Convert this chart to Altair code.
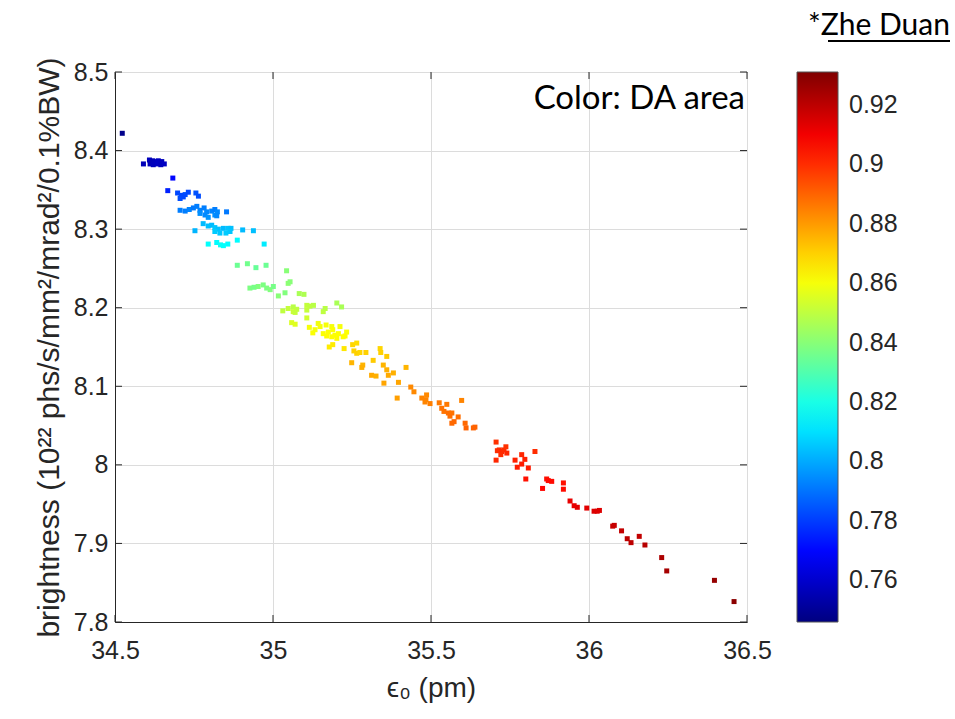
import altair as alt
import pandas as pd

# emittance eps_0 (pm)
eps = [
    34.523, 34.590, 34.609, 34.619, 34.627, 34.637, 34.648, 34.611, 34.621, 34.634,
    34.645, 34.656, 34.683, 34.667, 34.698, 34.709, 34.722, 34.732, 34.706, 34.716,
    34.756, 34.764, 34.706, 34.722, 34.735, 34.748, 34.759, 34.769, 34.782, 34.790,
    34.806, 34.816, 34.824, 34.853, 34.769, 34.785, 34.795, 34.816, 34.822, 34.779,
    34.795, 34.806, 34.816, 34.827, 34.843, 34.859, 34.867, 34.753, 34.816, 34.832,
    34.851, 34.864, 34.904, 34.938, 34.887, 34.795, 34.822, 34.834, 34.843, 34.857,
    34.972, 34.887, 34.919, 34.946, 34.978, 35.043, 34.927, 34.940, 34.953, 34.969,
    34.980, 34.991, 35.001, 35.017, 35.038, 35.048, 35.054, 35.083, 35.098, 35.031,
    35.048, 35.064, 35.075, 35.107, 35.117, 35.128, 35.107, 35.064, 35.107, 35.070,
    35.159, 35.165, 35.202, 35.217, 35.059, 35.070, 35.115, 35.126, 35.133, 35.143,
    35.149, 35.159, 35.168, 35.170, 35.175, 35.186, 35.189, 35.186, 35.196, 35.202,
    35.212, 35.207, 35.222, 35.233, 35.228, 35.178, 35.189, 35.225, 35.252, 35.265,
    35.256, 35.265, 35.275, 35.294, 35.339, 35.341, 35.360, 35.317, 35.249, 35.284,
    35.281, 35.312, 35.326, 35.349, 35.360, 35.365, 35.381, 35.351, 35.397, 35.421,
    35.393, 35.436, 35.446, 35.471, 35.486, 35.497, 35.484, 35.481, 35.526, 35.550,
    35.534, 35.541, 35.555, 35.566, 35.560, 35.586, 35.566, 35.573, 35.597, 35.608,
    35.611, 35.634, 35.639, 35.706, 35.710, 35.716, 35.724, 35.731, 35.737, 35.740,
    35.706, 35.721, 35.766, 35.787, 35.797, 35.829, 35.773, 35.787, 35.808, 35.800,
    35.866, 35.871, 35.882, 35.853, 35.919, 35.919, 35.940, 35.953, 35.963, 35.993,
    36.016, 36.026, 36.033, 36.075, 36.080, 36.103, 36.121, 36.133, 36.159, 36.177,
    36.230, 36.246, 36.397, 36.459,
]

# brightness (10^22 phs/s/mm^2/mrad^2/0.1%BW)
bright = [
    8.422, 8.383, 8.388, 8.387, 8.386, 8.387, 8.386, 8.383, 8.382, 8.383,
    8.382, 8.383, 8.365, 8.349, 8.346, 8.343, 8.344, 8.347, 8.339, 8.341,
    8.346, 8.342, 8.324, 8.323, 8.325, 8.327, 8.329, 8.324, 8.327, 8.322,
    8.323, 8.325, 8.322, 8.322, 8.320, 8.318, 8.315, 8.318, 8.317, 8.307,
    8.304, 8.305, 8.302, 8.300, 8.301, 8.301, 8.301, 8.298, 8.297, 8.295,
    8.295, 8.297, 8.299, 8.298, 8.286, 8.281, 8.283, 8.280, 8.279, 8.281,
    8.281, 8.254, 8.256, 8.251, 8.254, 8.247, 8.225, 8.226, 8.227, 8.229,
    8.225, 8.223, 8.227, 8.215, 8.219, 8.231, 8.233, 8.218, 8.217, 8.196,
    8.199, 8.201, 8.198, 8.203, 8.202, 8.203, 8.197, 8.195, 8.187, 8.194,
    8.195, 8.199, 8.206, 8.201, 8.181, 8.179, 8.175, 8.168, 8.172, 8.180,
    8.176, 8.167, 8.178, 8.164, 8.169, 8.176, 8.172, 8.163, 8.165, 8.161,
    8.176, 8.167, 8.163, 8.169, 8.164, 8.150, 8.153, 8.148, 8.153, 8.155,
    8.145, 8.142, 8.143, 8.143, 8.148, 8.143, 8.138, 8.133, 8.130, 8.127,
    8.124, 8.114, 8.113, 8.127, 8.121, 8.114, 8.117, 8.104, 8.105, 8.124,
    8.085, 8.099, 8.093, 8.085, 8.089, 8.078, 8.083, 8.080, 8.079, 8.077,
    8.072, 8.068, 8.066, 8.066, 8.062, 8.061, 8.053, 8.055, 8.082, 8.053,
    8.047, 8.047, 8.048, 8.029, 8.018, 8.019, 8.017, 8.019, 8.023, 8.015,
    8.006, 8.013, 8.006, 8.013, 8.007, 8.017, 7.997, 8.001, 7.996, 7.982,
    7.982, 7.980, 7.979, 7.970, 7.977, 7.969, 7.954, 7.948, 7.946, 7.945,
    7.941, 7.941, 7.942, 7.922, 7.923, 7.916, 7.906, 7.901, 7.909, 7.898,
    7.882, 7.865, 7.853, 7.826,
]

# dynamic aperture area (colour)
da = [
    0.748, 0.756, 0.757, 0.756, 0.757, 0.758, 0.757, 0.756, 0.757, 0.758,
    0.757, 0.758, 0.770, 0.775, 0.782, 0.782, 0.783, 0.782, 0.783, 0.782,
    0.784, 0.783, 0.792, 0.792, 0.793, 0.791, 0.792, 0.793, 0.792, 0.794,
    0.793, 0.792, 0.794, 0.791, 0.795, 0.794, 0.796, 0.795, 0.794, 0.803,
    0.804, 0.803, 0.805, 0.804, 0.803, 0.805, 0.804, 0.802, 0.806, 0.805,
    0.806, 0.805, 0.803, 0.804, 0.815, 0.816, 0.815, 0.817, 0.816, 0.815,
    0.812, 0.835, 0.836, 0.834, 0.835, 0.840, 0.838, 0.837, 0.839, 0.838,
    0.838, 0.839, 0.837, 0.840, 0.839, 0.841, 0.840, 0.846, 0.847, 0.850,
    0.851, 0.849, 0.850, 0.851, 0.850, 0.849, 0.851, 0.852, 0.853, 0.851,
    0.850, 0.849, 0.846, 0.846, 0.855, 0.856, 0.860, 0.861, 0.860, 0.859,
    0.860, 0.861, 0.860, 0.862, 0.861, 0.860, 0.861, 0.862, 0.861, 0.862,
    0.860, 0.861, 0.862, 0.861, 0.862, 0.865, 0.865, 0.866, 0.869, 0.868,
    0.870, 0.870, 0.869, 0.870, 0.869, 0.870, 0.871, 0.871, 0.875, 0.875,
    0.876, 0.877, 0.876, 0.875, 0.876, 0.877, 0.876, 0.878, 0.878, 0.875,
    0.879, 0.883, 0.883, 0.884, 0.883, 0.885, 0.884, 0.884, 0.886, 0.886,
    0.887, 0.887, 0.888, 0.887, 0.888, 0.888, 0.889, 0.889, 0.884, 0.889,
    0.890, 0.890, 0.890, 0.899, 0.900, 0.900, 0.901, 0.900, 0.899, 0.901,
    0.901, 0.900, 0.902, 0.901, 0.902, 0.900, 0.903, 0.903, 0.903, 0.905,
    0.905, 0.906, 0.906, 0.907, 0.905, 0.906, 0.912, 0.912, 0.913, 0.913,
    0.914, 0.914, 0.914, 0.918, 0.918, 0.919, 0.920, 0.920, 0.919, 0.921,
    0.923, 0.924, 0.927, 0.929,
]

x_ticks = [34.5, 35.0, 35.5, 36.0, 36.5]
y_ticks = [7.8, 7.9, 8.0, 8.1, 8.2, 8.3, 8.4, 8.5]
cbar_ticks = [0.76, 0.78, 0.80, 0.82, 0.84, 0.86, 0.88, 0.90, 0.92]

# MATLAB "jet" colormap anchor points
jet_domain = [0.746, 0.7691, 0.8154, 0.8616, 0.9079, 0.931]
jet_range = ["#000080", "#0000ff", "#00ffff", "#ffff00", "#ff0000", "#800000"]

df = pd.DataFrame({"eps": eps, "bright": bright, "da": da})
xt = pd.DataFrame({"v": x_ticks})
yt = pd.DataFrame({"v": y_ticks})

W, H = 632, 550
AX = "#262626"
LABEL_FONT = "Liberation Sans"
LBL = 25

xs = alt.Scale(domain=[34.5, 36.5], nice=False, zero=False)
ys = alt.Scale(domain=[7.8, 8.5], nice=False, zero=False)

points = alt.Chart(df).mark_square(size=25, opacity=1, filled=True).encode(
    x=alt.X("eps:Q", scale=xs,
            axis=alt.Axis(values=x_ticks, format=".2~f", title="ϵ₀ (pm)",
                          ticks=False, labelPadding=16, titlePadding=11,
                          labelFlush=False,
                          labelFont=LABEL_FONT, labelFontSize=LBL, labelColor=AX,
                          titleFont=LABEL_FONT, titleFontSize=28, titleColor=AX,
                          titleFontWeight="normal", domainColor=AX,
                          gridColor="#dcdcdc")),
    y=alt.Y("bright:Q", scale=ys,
            axis=alt.Axis(values=y_ticks, format=".2~f",
                          title="brightness (10²² phs/s/mm²/mrad²/0.1%BW)",
                          ticks=False, labelPadding=7, titlePadding=9,
                          labelFlush=False,
                          labelFont=LABEL_FONT, labelFontSize=LBL, labelColor=AX,
                          titleFont=LABEL_FONT, titleFontSize=30, titleColor=AX,
                          titleFontWeight="normal", domainColor=AX,
                          gridColor="#dcdcdc")),
    color=alt.Color("da:Q",
                    scale=alt.Scale(domain=jet_domain, range=jet_range, interpolate="rgb"),
                    legend=alt.Legend(orient="none", legendX=682, legendY=0,
                                      direction="vertical", title=None,
                                      gradientLength=H, gradientThickness=41,
                                      gradientStrokeColor="#555555", gradientStrokeWidth=1,
                                      values=cbar_ticks, format=".2~f",
                                      labelFontSize=LBL, labelFont=LABEL_FONT,
                                      labelColor=AX, labelOffset=11)),
)

tick_len = 7
bottom_ticks = alt.Chart(xt).mark_rule(color=AX, strokeWidth=1).encode(
    x=alt.X("v:Q", scale=xs), y=alt.value(H), y2=alt.value(H - tick_len))
top_ticks = alt.Chart(xt).mark_rule(color=AX, strokeWidth=1).encode(
    x=alt.X("v:Q", scale=xs), y=alt.value(0), y2=alt.value(tick_len))
left_ticks = alt.Chart(yt).mark_rule(color=AX, strokeWidth=1).encode(
    y=alt.Y("v:Q", scale=ys), x=alt.value(0), x2=alt.value(tick_len))
right_ticks = alt.Chart(yt).mark_rule(color=AX, strokeWidth=1).encode(
    y=alt.Y("v:Q", scale=ys), x=alt.value(W), x2=alt.value(W - tick_len))

note = alt.Chart(pd.DataFrame({"t": ["Color: DA area"]})).mark_text(
    align="right", baseline="alphabetic", font="Lato", fontSize=33, color="black"
).encode(text="t:N", x=alt.value(W - 2), y=alt.value(37))

author = alt.Chart(pd.DataFrame({"t": ["*Zhe Duan"]})).mark_text(
    align="right", baseline="alphabetic", font="Lato", fontSize=30, color="black"
).encode(text="t:N", x=alt.value(835), y=alt.value(-37))

underline = alt.Chart(pd.DataFrame({"t": ["u"]})).mark_rule(color="black", strokeWidth=2).encode(
    x=alt.value(713), x2=alt.value(835), y=alt.value(-31))

chart = alt.layer(
    points, bottom_ticks, top_ticks, left_ticks, right_ticks, note, author, underline
).properties(
    width=W, height=H,
    background="white",
    autosize=alt.AutoSizeParams(type="none"),
    padding={"left": 115, "top": 72, "right": 208, "bottom": 97},
).configure_view(
    stroke=AX, strokeWidth=1
).configure_axis(
    labelFont=LABEL_FONT, labelFontSize=LBL, labelColor=AX,
    titleFont=LABEL_FONT, titleColor=AX, titleFontWeight="normal",
    domainColor=AX, grid=True, gridColor="#dcdcdc", gridWidth=1, labelFlush=False,
)

chart.save("out.html", embed_options={"renderer": "svg", "actions": False})
